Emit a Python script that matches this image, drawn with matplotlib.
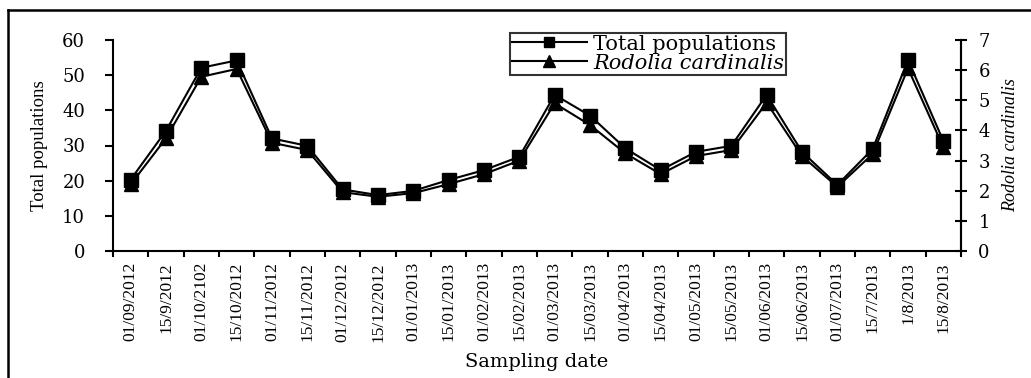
import numpy as np
import matplotlib
matplotlib.use("Agg")
import matplotlib.pyplot as plt
from matplotlib.lines import Line2D

# Sampling dates (as printed on the original chart)
dates = ["01/09/2012", "15/9/2012", "01/10/2102", "15/10/2012", "01/11/2012",
         "15/11/2012", "01/12/2012", "15/12/2012", "01/01/2013", "15/01/2013",
         "01/02/2013", "15/02/2013", "01/03/2013", "15/03/2013", "01/04/2013",
         "15/04/2013", "01/05/2013", "15/05/2013", "01/06/2013", "15/06/2013",
         "01/07/2013", "15/7/2013", "1/8/2013", "15/8/2013"]

# Total populations (left axis)
total_pop = [20.3, 34.2, 52.1, 54.2, 32.0, 29.9, 17.5, 15.9, 17.1, 20.2,
             23.0, 26.8, 44.4, 38.5, 29.2, 23.0, 28.2, 29.9, 44.4, 28.2,
             18.8, 29.0, 54.3, 31.3]

# Rodolia cardinalis (right axis)
rodolia = [2.21, 3.74, 5.78, 6.04, 3.59, 3.35, 1.95, 1.80, 1.92, 2.22,
           2.55, 3.00, 4.90, 4.18, 3.24, 2.55, 3.15, 3.35, 4.92, 3.15,
           2.13, 3.22, 6.06, 3.44]

serif = "Liberation Serif"
wide = "DejaVu Serif"

fig = plt.figure(figsize=(10.31, 3.78), dpi=100)
ax = fig.add_axes([113 / 1031, 1 - 251 / 378, 848 / 1031, 211 / 378])
ax2 = ax.twinx()

x = np.arange(len(dates)) + 0.5
l1, = ax.plot(x, total_pop, color="black", lw=1.5, marker="s", markersize=9.5)
l2, = ax2.plot(x, rodolia, color="black", lw=1.5, marker="^", markersize=10.5)

ax.set_xlim(0, len(dates))
ax.set_ylim(0, 60)
ax2.set_ylim(0, 7)
ax.set_yticks(np.arange(0, 61, 10))
ax2.set_yticks(np.arange(0, 8, 1))

# Date labels sit between the tick marks
ax.set_xticks(x)
ax.set_xticklabels(dates, rotation=90, fontsize=12.5, fontfamily=serif)
ax.tick_params(axis="x", which="major", length=0, pad=8)
ax.set_xticks(np.arange(0, len(dates) + 1), minor=True)
ax.tick_params(axis="x", which="minor", direction="out", length=4, width=1.5)

ax.tick_params(axis="y", direction="out", length=6, width=1.5, pad=14)
ax2.tick_params(axis="y", direction="inout", length=9, width=1.5, pad=8)
for lab in ax.get_yticklabels() + ax2.get_yticklabels():
    lab.set_fontfamily(wide)
    lab.set_fontsize(13)

for a in (ax, ax2):
    a.spines["top"].set_visible(False)
    for s in ("left", "right", "bottom"):
        a.spines[s].set_linewidth(1.5)
ax2.spines["left"].set_visible(False)
ax2.spines["bottom"].set_visible(False)

ax.set_ylabel("Total populations", fontsize=13.5, fontfamily=serif, labelpad=10)
ax2.set_ylabel("Rodolia cardinalis", fontsize=13, fontfamily=serif,
               fontstyle="italic", labelpad=9)
ax.set_xlabel("Sampling date", fontsize=14, fontfamily=wide, labelpad=8)

leg = ax.legend([l1, l2], ["Total populations", "Rodolia cardinalis"],
                loc="upper left", bbox_to_anchor=(0.468, 1.035),
                frameon=True, fancybox=False, edgecolor="black",
                handlelength=3.6, handletextpad=0.3, labelspacing=0.0,
                borderpad=0.1, borderaxespad=0, markerscale=0.8,
                prop={"family": wide, "size": 15})
leg.get_frame().set_linewidth(1.5)
leg.get_texts()[1].set_fontstyle("italic")

# outer frame (top and left edges only)
fig.add_artist(Line2D([8 / 1031, 1], [1 - 10 / 378, 1 - 10 / 378],
                      transform=fig.transFigure, color="black", lw=1.8))
fig.add_artist(Line2D([8 / 1031, 8 / 1031], [0, 1 - 10 / 378],
                      transform=fig.transFigure, color="black", lw=1.8))

fig.savefig("out.png", dpi=100)
